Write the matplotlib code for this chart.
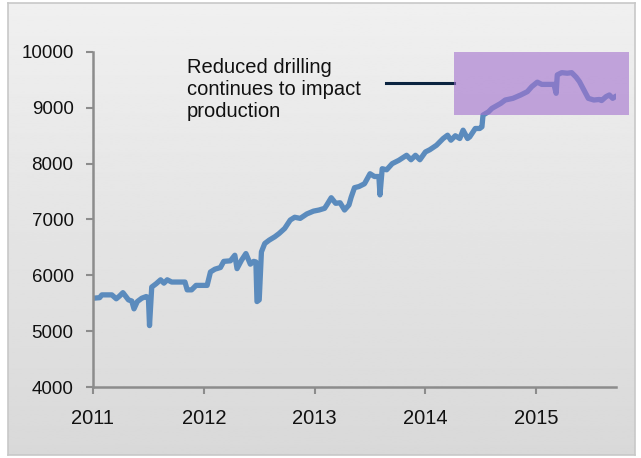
import numpy as np
import matplotlib
matplotlib.use("Agg")
import matplotlib.pyplot as plt
from matplotlib.patches import Rectangle

plt.rcParams['font.family'] = ['Liberation Sans', 'DejaVu Sans']

# weekly crude production (decimal year, thousand b/d)
years = [2011.00, 2011.06, 2011.08, 2011.17, 2011.21, 2011.24, 2011.27, 2011.32,
         2011.35, 2011.37, 2011.40, 2011.44, 2011.48, 2011.50, 2011.51, 2011.53,
         2011.57, 2011.61, 2011.64, 2011.67, 2011.71, 2011.83, 2011.85, 2011.89,
         2011.93, 2012.03, 2012.06, 2012.10, 2012.15, 2012.18, 2012.24, 2012.28,
         2012.30, 2012.34, 2012.38, 2012.42, 2012.45, 2012.47, 2012.48, 2012.50,
         2012.52, 2012.55, 2012.59, 2012.64, 2012.68, 2012.73, 2012.78, 2012.82,
         2012.87, 2012.93, 2012.99, 2013.04, 2013.09, 2013.11, 2013.15, 2013.19,
         2013.23, 2013.27, 2013.31, 2013.33, 2013.36, 2013.40, 2013.45, 2013.50,
         2013.54, 2013.58, 2013.59, 2013.61, 2013.65, 2013.70, 2013.76, 2013.83,
         2013.87, 2013.91, 2013.95, 2014.00, 2014.04, 2014.10, 2014.16, 2014.20,
         2014.23, 2014.27, 2014.31, 2014.34, 2014.38, 2014.40, 2014.45, 2014.49,
         2014.51, 2014.52, 2014.57, 2014.60, 2014.68, 2014.72, 2014.79, 2014.86,
         2014.92, 2014.96, 2015.01, 2015.05, 2015.16, 2015.18, 2015.19, 2015.23,
         2015.28, 2015.32, 2015.36, 2015.39, 2015.43, 2015.47, 2015.52, 2015.57,
         2015.59, 2015.63, 2015.66, 2015.69, 2015.72]
production = [5590, 5600, 5650, 5650, 5580, 5630, 5690, 5560,
              5540, 5400, 5530, 5590, 5620, 5600, 5100, 5790,
              5850, 5920, 5860, 5920, 5880, 5880, 5740, 5740,
              5820, 5820, 6060, 6110, 6140, 6250, 6260, 6360,
              6120, 6270, 6390, 6200, 6250, 6240, 5530, 5560,
              6420, 6570, 6630, 6690, 6750, 6840, 6990, 7040,
              7020, 7100, 7150, 7170, 7200, 7260, 7390, 7290,
              7300, 7170, 7260, 7400, 7570, 7590, 7640, 7820,
              7770, 7770, 7440, 7910, 7890, 8000, 8060, 8150,
              8070, 8150, 8070, 8210, 8250, 8330, 8450, 8510,
              8420, 8500, 8450, 8600, 8450, 8480, 8630, 8630,
              8660, 8870, 8930, 8990, 9080, 9140, 9170, 9230,
              9290, 9380, 9460, 9420, 9420, 9260, 9590, 9630,
              9620, 9630, 9550, 9470, 9320, 9170, 9140, 9150,
              9130, 9200, 9230, 9170, 9210]

year_ticks = [2011, 2012, 2013, 2014, 2015]
value_ticks = [4000, 5000, 6000, 7000, 8000, 9000, 10000]
note = "Reduced drilling\ncontinues to impact\nproduction"
box_x = (2014.26, 2015.84)
box_y = (8870, 10000)

W, H = 641, 458
fig = plt.figure(figsize=(W / 100, H / 100), dpi=100)
fig.patch.set_facecolor('white')

# grey gradient panel behind the chart
bg = fig.add_axes([8 / W, 1 - 455 / H, (635 - 8) / W, (455 - 3) / H], zorder=0)
grad = np.linspace(0.94, 0.85, 256).reshape(-1, 1)
bg.imshow(grad, cmap='gray', vmin=0, vmax=1, aspect='auto', extent=[0, 1, 0, 1])
bg.set_xticks([])
bg.set_yticks([])
for s in bg.spines.values():
    s.set_color('#c8c8c8')
    s.set_linewidth(1.2)

ax = fig.add_axes([93 / W, 1 - 387 / H, (616 - 93) / W, (387 - 52) / H], zorder=1)
ax.patch.set_visible(False)
ax.plot(years, production, color='#5b8bbd', lw=3.8, solid_joinstyle='round',
        solid_capstyle='round')

ax.set_xlim(2011, 2015.72)
ax.set_ylim(4000, 10000)
ax.set_xticks(year_ticks)
ax.set_xticklabels([str(y) for y in year_ticks])
ax.set_yticks(value_ticks)

for side in ['top', 'right']:
    ax.spines[side].set_visible(False)
for side in ['left', 'bottom']:
    ax.spines[side].set_color('#8c8c8c')
    ax.spines[side].set_linewidth(1.8)
ax.tick_params(axis='both', direction='out', length=5, width=1.5, color='#8c8c8c',
               labelcolor='#111111')
ax.tick_params(axis='x', pad=11, labelsize=14.5)
ax.tick_params(axis='y', pad=9, labelsize=13.5)

# highlight box and callout
ax.add_patch(Rectangle((box_x[0], box_y[0]), box_x[1] - box_x[0], box_y[1] - box_y[0],
                       facecolor='#a371ce', alpha=0.6, edgecolor='none',
                       clip_on=False, zorder=3))
ax.plot([2013.64, box_x[0]], [9444, 9444], color='#0b2440', lw=2.2, zorder=2)
ax.text(2011.85, 9890, note, fontsize=14.5, color='#111111', va='top', ha='left')

fig.savefig('out.png', dpi=100, facecolor='white')
